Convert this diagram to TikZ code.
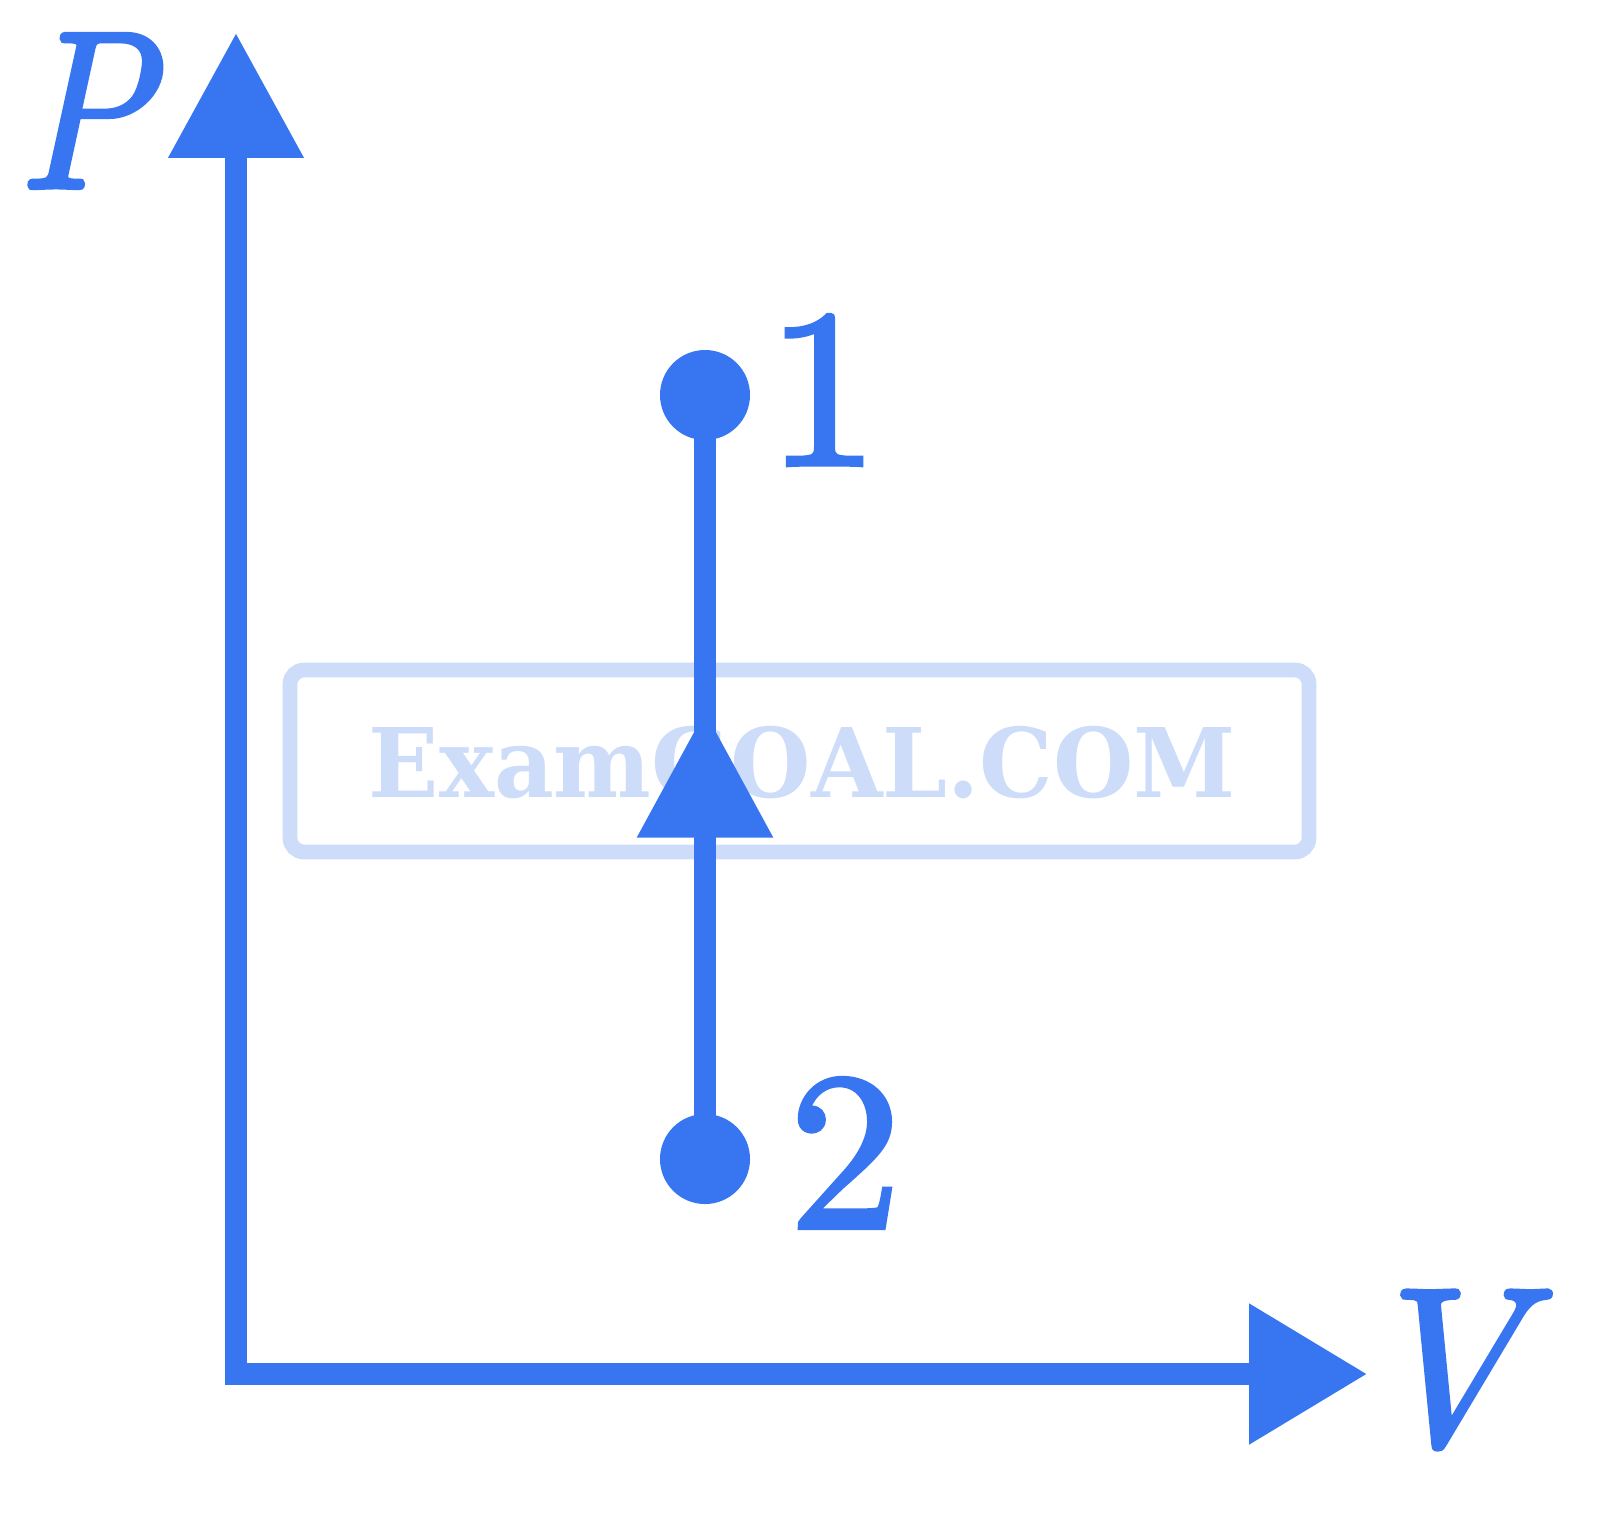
\documentclass[tikz,border=0pt]{standalone}
\usepackage{fontspec}
\usetikzlibrary{arrows.meta}
\newfontfamily\wmfont{DejaVu Serif}
\newfontfamily\labfont[FakeBold=2]{lmroman10-regular.otf}
\newfontfamily\labitfont[FakeBold=2]{lmroman10-italic.otf}
\definecolor{mainblue}{RGB}{55,118,240}
\definecolor{wmblue}{RGB}{205,220,248}
\tikzset{
  axisline/.style={draw=mainblue, line width=6pt},
  dotnode/.style={circle, fill=mainblue, minimum size=25.6pt, inner sep=0pt},
  biglabel/.style={text=mainblue, font=\labfont\fontsize{64}{64}\selectfont, inner sep=0pt},
  itlabel/.style={text=mainblue, font=\labitfont\fontsize{64}{64}\selectfont, inner sep=0pt},
  wmbox/.style={draw=wmblue, line width=4.2pt, rounded corners=4pt},
}
\begin{document}
\begin{tikzpicture}[x=0.01cm, y=-0.01cm]
\useasboundingbox (0,0) rectangle (1600,1523);
% watermark
\draw[wmbox] (290,670) rectangle (1309,852);
\node[anchor=base west, text=wmblue, inner sep=0pt, font=\wmfont\bfseries\fontsize{27.3}{27.3}\selectfont] (wm) at (368,797) {\scalebox{0.962}[1]{ExamGOAL.COM}};
% axes
\coordinate (ptip) at (236,33);
\coordinate (origin) at (236,1374);
\coordinate (vtip) at (1367,1374);
\draw[axisline, {Triangle[width=37pt,length=35.5pt]}-{Triangle[width=38.5pt,length=33.5pt]}] (ptip) -- (origin) -- (vtip);
% states
\node[dotnode] (n1) at (705,395) {};
\node[dotnode] (n2) at (705,1159) {};
\coordinate (mid) at (705,711);
\draw[draw=mainblue, line width=6.5pt] (n2.center) -- (n1.center);
\draw[draw=mainblue, line width=6.5pt, -{Triangle[width=37pt,length=36pt]}] (n2.center) -- (mid);
% labels
\node[itlabel] (lp) at (84,111) {\scalebox{0.88}[1]{P}};
\node[itlabel] (lv) at (1439,1370) {V};
\node[biglabel] (l1) at (823,390) {1};
\node[biglabel] (l2) at (845,1153) {2};
\end{tikzpicture}
\end{document}
